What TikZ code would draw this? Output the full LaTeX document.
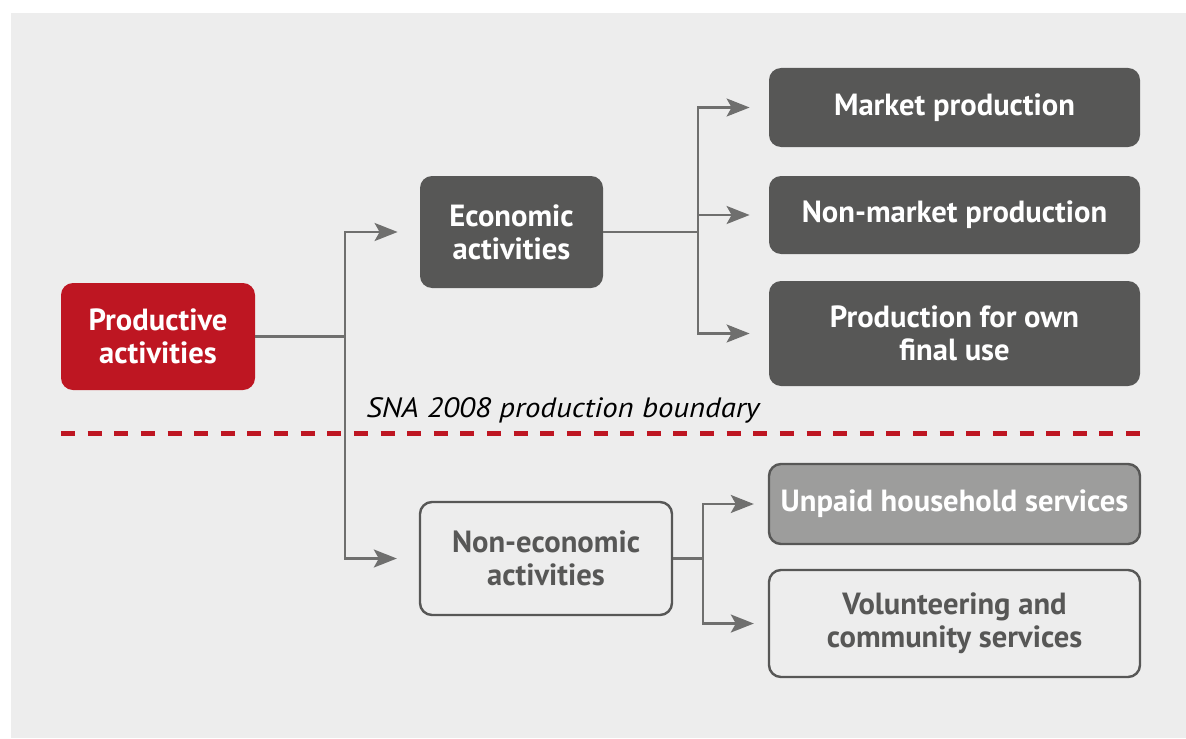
\documentclass[tikz,border=0pt]{standalone}
\usepackage{fontspec}
\setmainfont{PT Sans}
\newfontfamily\snafont{PT Sans}[FakeStretch=1.1]
\usetikzlibrary{arrows.meta,positioning}
\definecolor{ilored}{RGB}{190,22,34}
\definecolor{ilodark}{RGB}{87,87,86}
\definecolor{ilomid}{RGB}{157,157,156}
\definecolor{iloline}{RGB}{111,111,110}
\definecolor{ilobg}{RGB}{237,237,237}
\tikzset{
  actbox/.style={rounded corners=6pt,align=center,inner sep=0pt,
    font=\bfseries\fontsize{15.3}{16.5}\selectfont},
  darkbox/.style={actbox,fill=ilodark,text=white},
  redbox/.style={actbox,fill=ilored,text=white},
  greybox/.style={actbox,fill=ilomid,draw=ilodark,line width=1.2pt,text=white},
  openbox/.style={actbox,draw=ilodark,line width=1.2pt,text=ilodark},
  outbox/.style={minimum width=185.5pt},
  link/.style={draw=iloline,line width=1.2pt,
    -{Stealth[length=11.5pt,width=9pt,inset=2.5pt]}},
  boundary/.style={draw=ilored,line width=2.5pt,dash pattern=on 7pt off 6.3125pt}
}
\begin{document}
\begin{tikzpicture}[x=.5pt,y=-.5pt]
  \useasboundingbox (0,0) rectangle (1186,738);
  \fill[ilobg] (11,13) rectangle (1186,738);

  \node[redbox,minimum width=97pt,minimum height=53.5pt] (prod) at (158,336.5)
    {Productive\\activities};
  \node[darkbox,minimum width=91.5pt,minimum height=56pt] (econ) at (511.5,232)
    {Economic\\activities};
  \node[openbox,minimum width=126pt,minimum height=56.5pt] (noneco) at (546,558.5)
    {Non-economic\\activities};

  \node[darkbox,outbox,minimum height=39.5pt] (market) at (954.5,107.5)
    {Market production};
  \node[darkbox,outbox,minimum height=39pt] (nonmarket) at (954.5,215)
    {Non-market production};
  \node[darkbox,outbox,minimum height=52.5pt] (ownuse) at (954.5,333.5)
    {Production for own\\final use};
  \node[greybox,outbox,minimum height=40pt] (unpaid) at (954.5,504)
    {Unpaid household services};
  \node[openbox,outbox,minimum height=53.5pt] (volunteer) at (954.5,623.5)
    {Volunteering and\\community services};

  \coordinate (j1) at (345,336.5);
  \coordinate (j2) at (698,232);
  \coordinate (j3) at (703,558.5);

  \draw[link,-] (prod.east) -- (j1);
  \draw[link,shorten >=11pt] (j1) |- (econ.west);
  \draw[link,shorten >=11pt] (j1) |- (noneco.west);

  \draw[link,-] (econ.east) -- (j2);
  \draw[link,shorten >=9.5pt] (j2) |- (market.west);
  \draw[link,shorten >=9.5pt] (j2) |- (nonmarket.west);
  \draw[link,shorten >=9.5pt] (j2) |- (ownuse.west);

  \draw[link,-] (noneco.east) -- (j3);
  \draw[link,shorten >=7pt] (j3) |- (unpaid.west);
  \draw[link,shorten >=7pt] (j3) |- (volunteer.west);

  \draw[boundary] (61,433) -- (1140,433);
  \node[anchor=base west,inner sep=0pt,font=\snafont\itshape\fontsize{14}{16}\selectfont]
    (sna) at (366,417) {SNA 2008 production boundary};
\end{tikzpicture}
\end{document}
